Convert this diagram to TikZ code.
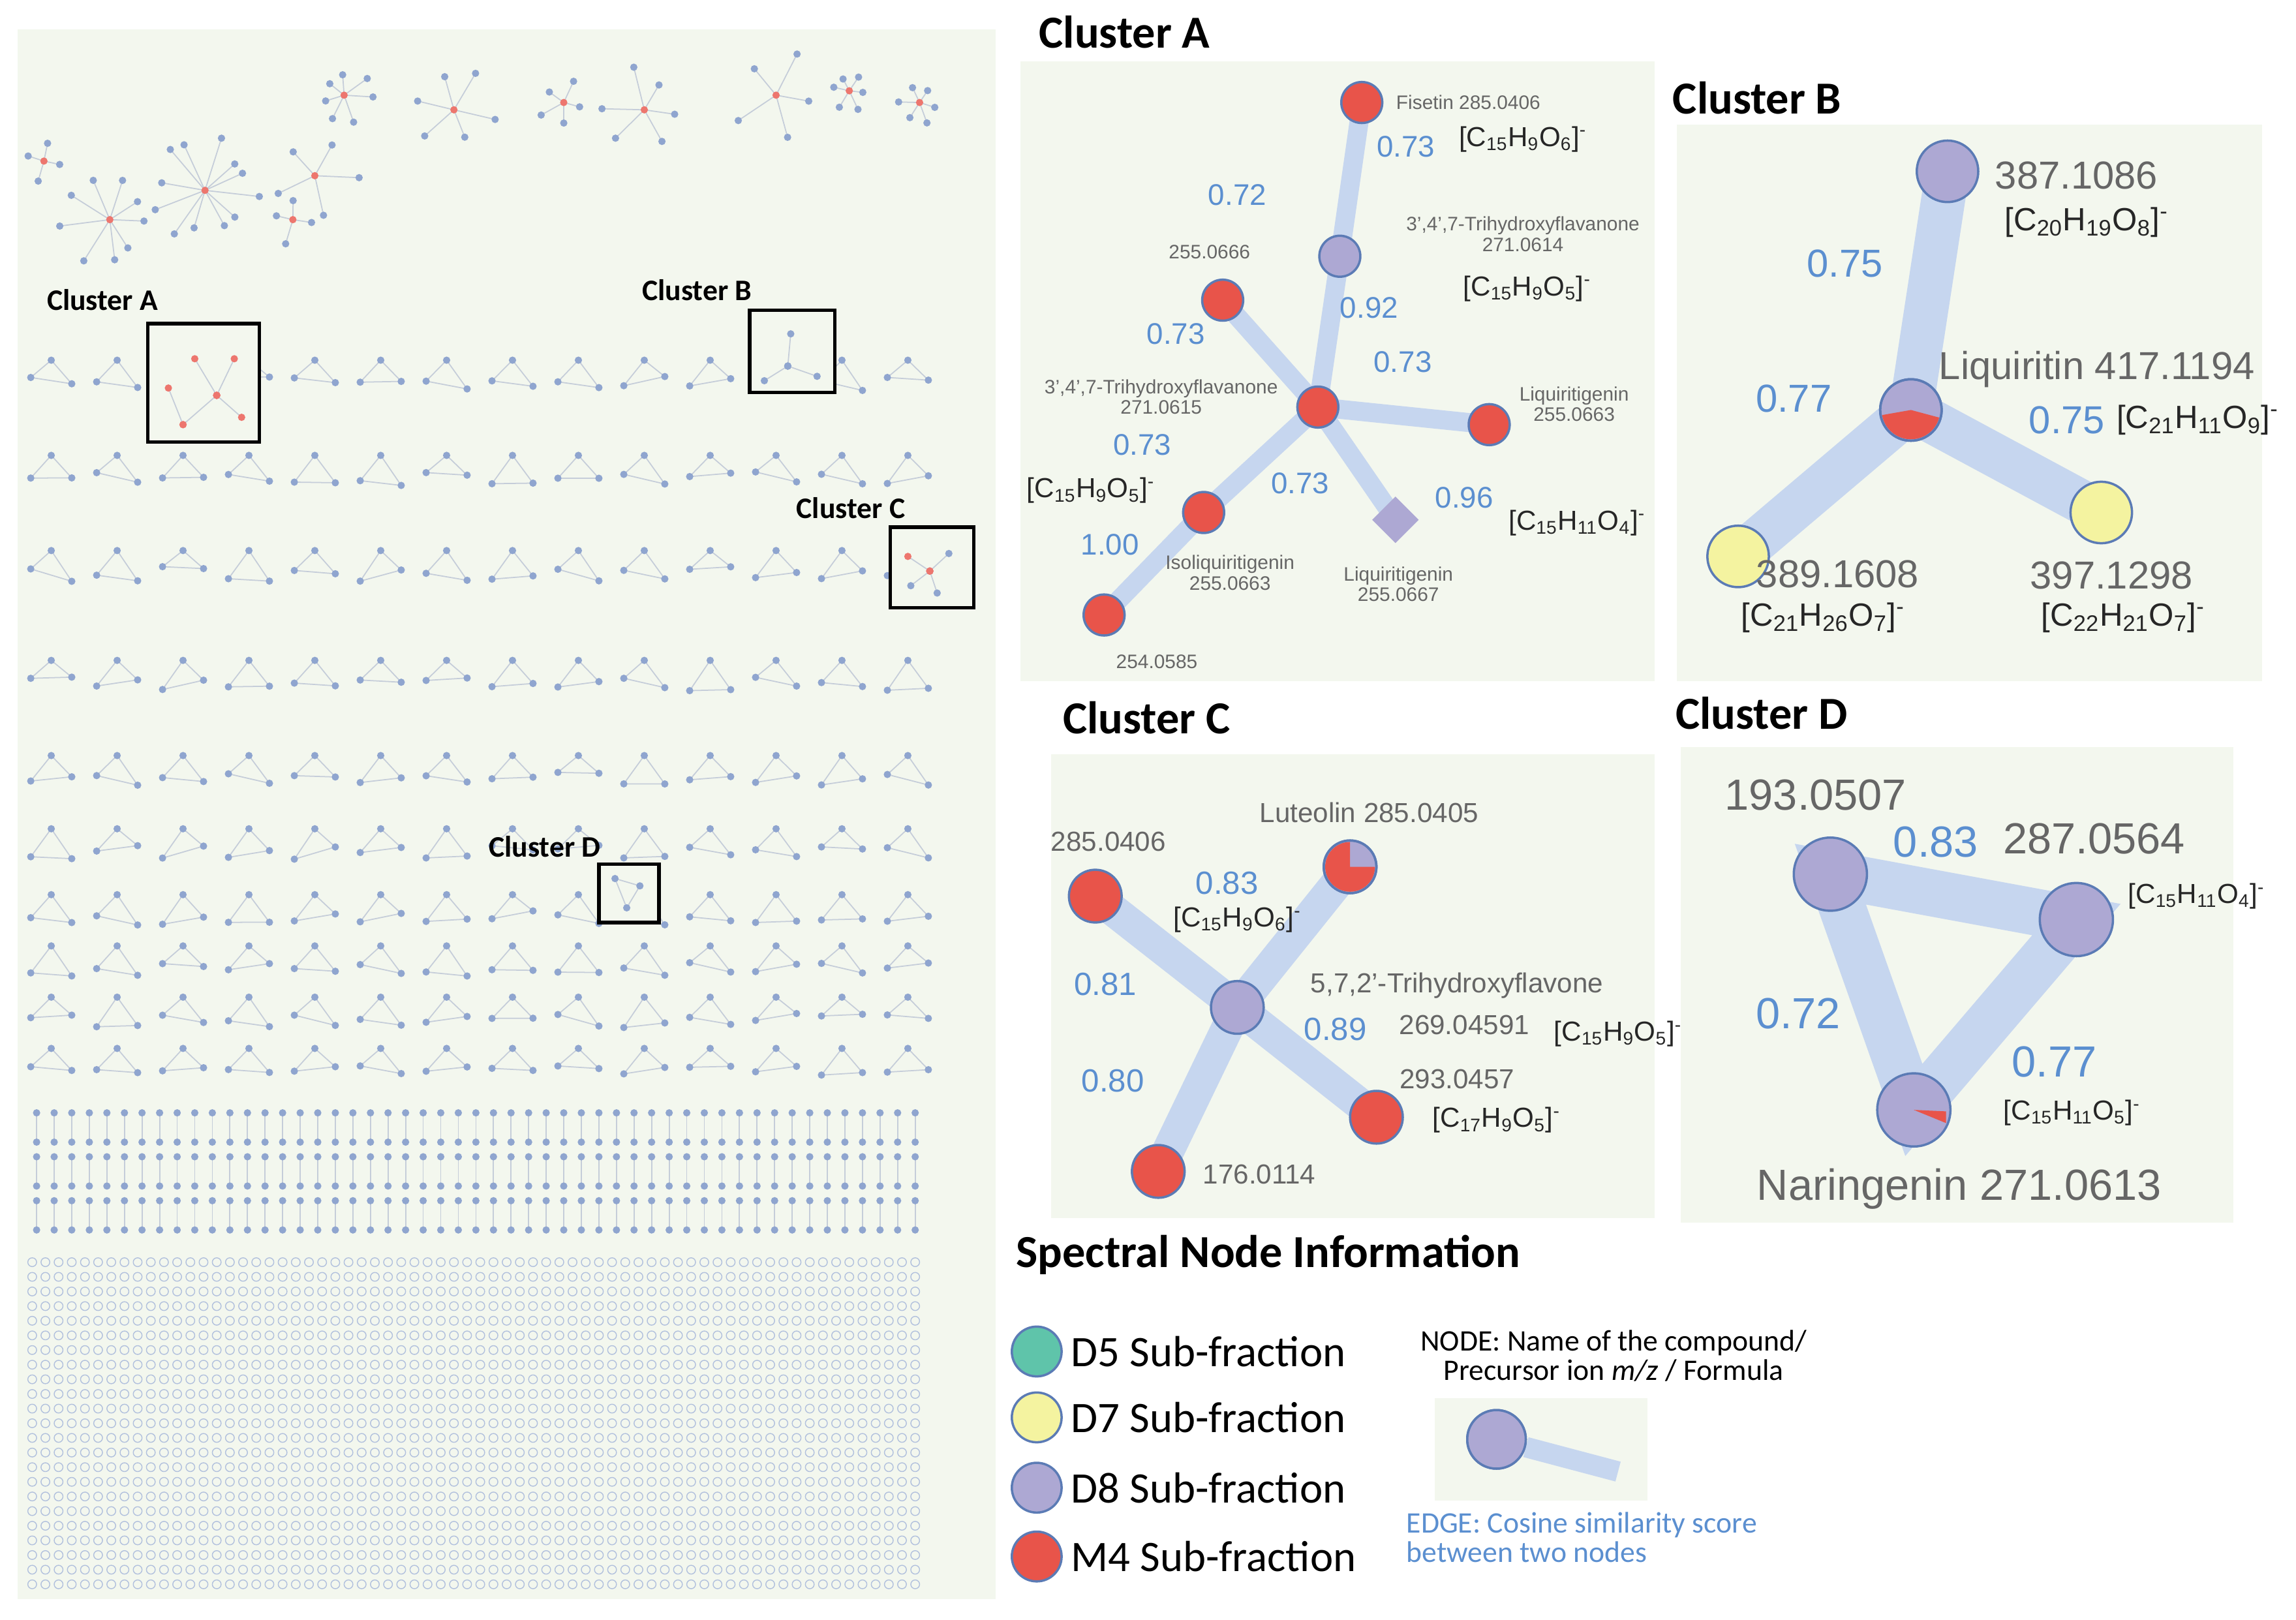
\documentclass[tikz,border=0pt]{standalone}
\usepackage{fontspec}
\usetikzlibrary{calc,shapes.geometric}
\setmainfont{Liberation Sans}
\newfontfamily\titlefont{Carlito}
\definecolor{bgpanel}{HTML}{F3F7EE}
\definecolor{edgeblue}{HTML}{C6D6EF}
\definecolor{scoreblue}{HTML}{5B8FD0}
\definecolor{nodepurple}{HTML}{ADA8D3}
\definecolor{nodered}{HTML}{E8544A}
\definecolor{nodeyellow}{HTML}{F4F3A0}
\definecolor{nodeteal}{HTML}{5FC4AA}
\definecolor{nodeborder}{HTML}{5B7BB5}
\definecolor{labelgray}{HTML}{666666}
\definecolor{ovdot}{HTML}{8FA5CF}
\newdimen\px \px=0.6385pt
\newcommand{\ssb}[1]{\textsubscript{#1}}
\newcommand{\ssp}{\textsuperscript{-}}
\tikzset{
  panel/.style={fill=bgpanel, draw=none},
  spec/.style={circle, draw=nodeborder, line width=1pt, minimum size=36\px, inner sep=0pt},
  purplenode/.style={spec, fill=nodepurple},
  rednode/.style={spec, fill=nodered},
  yellownode/.style={spec, fill=nodeyellow},
  link/.style={draw=edgeblue, line width=#1\px},
  link/.default=15,
  score/.style={text=scoreblue, font=\fontsize{13}{13}\selectfont},
  bigscore/.style={text=scoreblue, font=\fontsize{17}{17}\selectfont},
  small/.style={text=labelgray, font=\fontsize{8.5}{9}\selectfont, align=center},
  mid/.style={text=labelgray, font=\fontsize{12}{12}\selectfont},
  big/.style={text=labelgray, font=\fontsize{17}{17}\selectfont},
  formula/.style={text=black!85, font=\fontsize{12}{12}\selectfont},
  title/.style={font=\titlefont\bfseries\fontsize{20}{20}\selectfont},
  boxlabel/.style={font=\titlefont\bfseries\fontsize{13}{13}\selectfont},
  legendtext/.style={font=\titlefont\fontsize{19}{19}\selectfont, anchor=west},
  ovedge/.style={draw=edgeblue!80!black!60, line width=0.5pt},
  ovnode/.style={circle, fill=ovdot, inner sep=0pt, minimum size=5\px},
}
\begin{document}
\begin{tikzpicture}[x=0.02244cm, y=-0.02244cm]
\useasboundingbox (0,0) rectangle (1568,1106);
\fill[white] (0,0) rectangle (1568,1106);

% overview panel
\fill[panel] (12,20) rectangle (680,1092);
\pgfmathsetseed{7}
\foreach \cx/\cy/\n/\r in {75/150/9/35, 140/130/12/40, 235/65/7/20, 310/75/6/30, 385/70/5/18, 440/75/6/30, 530/65/5/35, 580/62/6/15, 628/70/6/15, 215/120/5/35, 200/150/4/18, 30/110/4/15}{
  \foreach \k in {1,...,\n}{
    \pgfmathsetmacro\ang{360/\n*\k+rnd*20}
    \pgfmathsetmacro\rr{\r*(0.6+0.4*rnd)}
    \draw[ovedge] (\cx,\cy) -- ++(\ang:\rr);
    \node[ovnode] at ($(\cx,\cy)+(\ang:\rr)$) {};
  }
  \node[ovnode, fill=nodered!80] at (\cx,\cy) {};
}
\foreach \y in {255,320,385,460,525,575,620,655,690,725}{
  \foreach \x in {35,80,...,640}{
    \pgfmathsetmacro\da{rnd*10-5}
    \pgfmathsetmacro\db{rnd*10-5}
    \draw[ovedge] (\x-14,\y+7+\da) -- (\x,\y-9) -- (\x+14,\y+7+\db) -- cycle;
    \node[ovnode] at (\x-14,\y+7+\da) {};
    \node[ovnode] at (\x,\y-9) {};
    \node[ovnode] at (\x+14,\y+7+\db) {};
  }
}
\foreach \y in {770,800,830}{
  \foreach \x in {25,37,...,625}{
    \draw[ovedge] (\x,\y-10) -- (\x,\y+10);
    \node[ovnode] at (\x,\y-10) {};
    \node[ovnode] at (\x,\y+10) {};
  }
}
\foreach \y in {862,872,...,1082}{
  \foreach \x in {22,31,...,630}{
    \node[circle, draw=ovdot!70, fill=bgpanel, inner sep=0pt, minimum size=6\px] at (\x,\y) {};
  }
}

% cluster frames in the overview
\foreach \name/\xa/\ya/\xb/\yb in {A/101/221/177/302, B/512/212/570/268, C/608/360/665/415, D/409/590/450/630}{
  \node[draw=black, line width=1.5pt, fill=bgpanel, minimum width=(\xb-\xa)*0.02244cm, minimum height=(\yb-\ya)*0.02244cm, inner sep=0pt] (frame\name) at ({(\xa+\xb)/2},{(\ya+\yb)/2}) {};
}
\node[boxlabel] at (70,205) {Cluster A};
\node[boxlabel] at (476,198) {Cluster B};
\node[boxlabel] at (581,347) {Cluster C};
\node[boxlabel] at (372,578) {Cluster D};
\foreach \a/\b in {{133,245}/{148,270}, {148,270}/{125,290}, {148,270}/{160,245}, {148,270}/{165,285}, {125,290}/{115,265}}{
  \draw[ovedge] (\a) -- (\b);
  \node[ovnode, fill=nodered!80] at (\a) {};
  \node[ovnode, fill=nodered!80] at (\b) {};
}
\foreach \a/\b in {{540,228}/{538,250}, {538,250}/{522,260}, {538,250}/{558,257}}{
  \draw[ovedge] (\a) -- (\b);
  \node[ovnode] at (\a) {};
  \node[ovnode] at (\b) {};
}
\foreach \a/\b in {{620,380}/{635,390}, {635,390}/{648,378}, {635,390}/{640,405}, {635,390}/{622,400}}{
  \draw[ovedge] (\a) -- (\b);
  \node[ovnode, fill=nodered!80] at (\a) {};
  \node[ovnode] at (\b) {};
}
\draw[ovedge] (420,600) -- (437,605) -- (428,620) -- cycle;
\node[ovnode] at (420,600) {};
\node[ovnode] at (437,605) {};
\node[ovnode] at (428,620) {};

% Cluster A
\node[title] at (768,22) {Cluster A};
\fill[panel] (697,42) rectangle (1130,465);
\coordinate (a_fis) at (930,70);
\coordinate (a_thf) at (915,175);
\coordinate (a_255) at (835,205);
\coordinate (a_cen) at (900,278);
\coordinate (a_liq) at (1017,290);
\coordinate (a_liqd) at (953,355);
\coordinate (a_iso) at (822,350);
\coordinate (a_254) at (754,420);
\foreach \a/\b in {a_fis/a_thf, a_thf/a_cen, a_255/a_cen, a_cen/a_liq, a_cen/a_liqd, a_cen/a_iso, a_iso/a_254}{
  \draw[link=13] (\a) -- (\b);
}
\node[rednode, minimum size=28\px] (fisetin) at (a_fis) {};
\node[purplenode, minimum size=28\px] (thf_a) at (a_thf) {};
\node[rednode, minimum size=28\px] (n255a) at (a_255) {};
\node[rednode, minimum size=28\px] (thf_b) at (a_cen) {};
\node[rednode, minimum size=28\px] (liq_a) at (a_liq) {};
\node[diamond, fill=nodepurple, minimum size=32\px, inner sep=0pt] (liq_b) at (a_liqd) {};
\node[rednode, minimum size=28\px] (isoliq) at (a_iso) {};
\node[rednode, minimum size=28\px] (n254) at (a_254) {};
\node[small, anchor=west] at (948,70) {Fisetin 285.0406};
\node[small] at (1040,160) {3',4',7-Trihydroxyflavanone\\271.0614};
\node[small] at (826,172) {255.0666};
\node[small] at (793,271) {3',4',7-Trihydroxyflavanone\\271.0615};
\node[small] at (1075,276) {Liquiritigenin\\255.0663};
\node[small] at (955,399) {Liquiritigenin\\255.0667};
\node[small] at (840,391) {Isoliquiritigenin\\255.0663};
\node[small] at (790,452) {254.0585};
\node[score] at (960,100) {0.73};
\node[score] at (845,133) {0.72};
\node[score] at (935,210) {0.92};
\node[score] at (803,228) {0.73};
\node[score] at (958,247) {0.73};
\node[score] at (780,304) {0.73};
\node[score] at (888,330) {0.73};
\node[score] at (1000,340) {0.96};
\node[score] at (758,372) {1.00};
\node[formula] at (1040,95) {[C\ssb{15}H\ssb{9}O\ssb{6}]\ssp};
\node[formula] at (1043,197) {[C\ssb{15}H\ssb{9}O\ssb{5}]\ssp};
\node[formula] at (745,335) {[C\ssb{15}H\ssb{9}O\ssb{5}]\ssp};
\node[formula] at (1077,357) {[C\ssb{15}H\ssb{11}O\ssb{4}]\ssp};

% Cluster B
\node[title] at (1200,67) {Cluster B};
\fill[panel] (1145,85) rectangle (1545,465);
\draw[link=30] (1330,117) -- (1305,280);
\draw[link=30] (1305,280) -- (1187,380);
\draw[link=30] (1305,280) -- (1435,350);
\node[purplenode, minimum size=42\px] (b387) at (1330,117) {};
\node[purplenode, minimum size=42\px] (liquiritin) at (1305,280) {};
\fill[nodered] (liquiritin.center) -- ++(-190:20) arc[start angle=-190, end angle=-345, radius=20] -- cycle;
\draw[nodeborder, line width=1pt] (liquiritin) circle[radius=21];
\node[yellownode, minimum size=42\px] (b389) at (1187,380) {};
\node[yellownode, minimum size=42\px] (b397) at (1435,350) {};
\node[big] at (1418,120) {387.1086};
\node[formula, font=\fontsize{14}{14}\selectfont] at (1425,152) {[C\ssb{20}H\ssb{19}O\ssb{8}]\ssp};
\node[bigscore] at (1260,180) {0.75};
\node[big] at (1432,252) {Liquiritin 417.1194};
\node[bigscore] at (1225,272) {0.77};
\node[bigscore, anchor=east] at (1443,287) {0.75};
\node[formula, font=\fontsize{14}{14}\selectfont, anchor=west] at (1440,287) {[C\ssb{21}H\ssb{11}O\ssb{9}]\ssp};
\node[big] at (1255,392) {389.1608};
\node[formula, font=\fontsize{14}{14}\selectfont] at (1245,422) {[C\ssb{21}H\ssb{26}O\ssb{7}]\ssp};
\node[big] at (1442,393) {397.1298};
\node[formula, font=\fontsize{14}{14}\selectfont] at (1450,422) {[C\ssb{22}H\ssb{21}O\ssb{7}]\ssp};

% Cluster C
\node[title] at (783,490) {Cluster C};
\fill[panel] (718,515) rectangle (1130,832);
\draw[link=22] (748,612) -- (845,688);
\draw[link=22] (922,592) -- (845,688);
\draw[link=22] (845,688) -- (940,763);
\draw[link=22] (845,688) -- (791,800);
\node[rednode] (c285) at (748,612) {};
\node[purplenode] (luteolin) at (922,592) {};
\fill[nodered] (luteolin.center) -- ++(-90:17) arc[start angle=-90, end angle=-360, radius=17] -- cycle;
\draw[nodeborder, line width=1pt] (luteolin) circle[radius=18];
\node[purplenode] (thflavone) at (845,688) {};
\node[rednode] (c293) at (940,763) {};
\node[rednode] (c176) at (791,800) {};
\node[mid] at (757,575) {285.0406};
\node[mid] at (935,555) {Luteolin 285.0405};
\node[score, font=\fontsize{14}{14}\selectfont] at (838,603) {0.83};
\node[formula] at (845,628) {[C\ssb{15}H\ssb{9}O\ssb{6}]\ssp};
\node[score, font=\fontsize{14}{14}\selectfont] at (755,672) {0.81};
\node[mid] at (995,673) {5,7,2'-Trihydroxyflavone};
\node[score, font=\fontsize{14}{14}\selectfont] at (912,703) {0.89};
\node[mid] at (1000,700) {269.04591};
\node[formula] at (1105,706) {[C\ssb{15}H\ssb{9}O\ssb{5}]\ssp};
\node[score, font=\fontsize{14}{14}\selectfont] at (760,738) {0.80};
\node[mid] at (995,737) {293.0457};
\node[formula] at (1022,765) {[C\ssb{17}H\ssb{9}O\ssb{5}]\ssp};
\node[mid] at (860,802) {176.0114};

% Cluster D
\node[title] at (1203,487) {Cluster D};
\fill[panel] (1148,510) rectangle (1525,835);
\draw[link=32] (1250,597) -- (1418,628) -- (1307,758) -- cycle;
\node[purplenode, minimum size=50\px] (d193) at (1250,597) {};
\node[purplenode, minimum size=50\px] (d287) at (1418,628) {};
\node[purplenode, minimum size=50\px] (naringenin) at (1307,758) {};
\fill[nodered] (naringenin.center) -- ++(22,1) -- ++(0,8) -- cycle;
\node[big, font=\fontsize{19}{19}\selectfont] at (1240,543) {193.0507};
\node[bigscore, font=\fontsize{19}{19}\selectfont] at (1322,575) {0.83};
\node[big, font=\fontsize{19}{19}\selectfont] at (1430,573) {287.0564};
\node[formula] at (1500,612) {[C\ssb{15}H\ssb{11}O\ssb{4}]\ssp};
\node[bigscore, font=\fontsize{19}{19}\selectfont] at (1228,692) {0.72};
\node[bigscore, font=\fontsize{19}{19}\selectfont] at (1403,725) {0.77};
\node[formula] at (1415,760) {[C\ssb{15}H\ssb{11}O\ssb{5}]\ssp};
\node[big, font=\fontsize{19}{19}\selectfont] at (1338,812) {Naringenin 271.0613};

% legend
\node[title] at (866,857) {Spectral Node Information};
\foreach \col/\lab/\y in {nodeteal/D5/923, nodeyellow/D7/968, nodepurple/D8/1016, nodered/M4/1063}{
  \node[spec, fill=\col, minimum size=34\px] (leg\lab) at (708,\y) {};
  \node[legendtext] at (726,\y) {\lab\ Sub-fraction};
}
\node[font=\titlefont\fontsize{13}{13}\selectfont, align=center] at (1102,926) {NODE: Name of the compound/\\Precursor ion \textit{m/z} / Formula};
\fill[bgpanel] (980,955) rectangle (1125,1025);
\coordinate (edgeend) at (1105,1005);
\node[purplenode, minimum size=40\px] (legnode) at (1022,983) {};
\draw[link=14] (legnode) -- (edgeend);
\node[purplenode, minimum size=40\px] at (1022,983) {};
\node[text=scoreblue, font=\titlefont\fontsize{13}{13}\selectfont, align=left, anchor=north west] at (955,1027) {EDGE: Cosine similarity score\\between two nodes};
\end{tikzpicture}
\end{document}
